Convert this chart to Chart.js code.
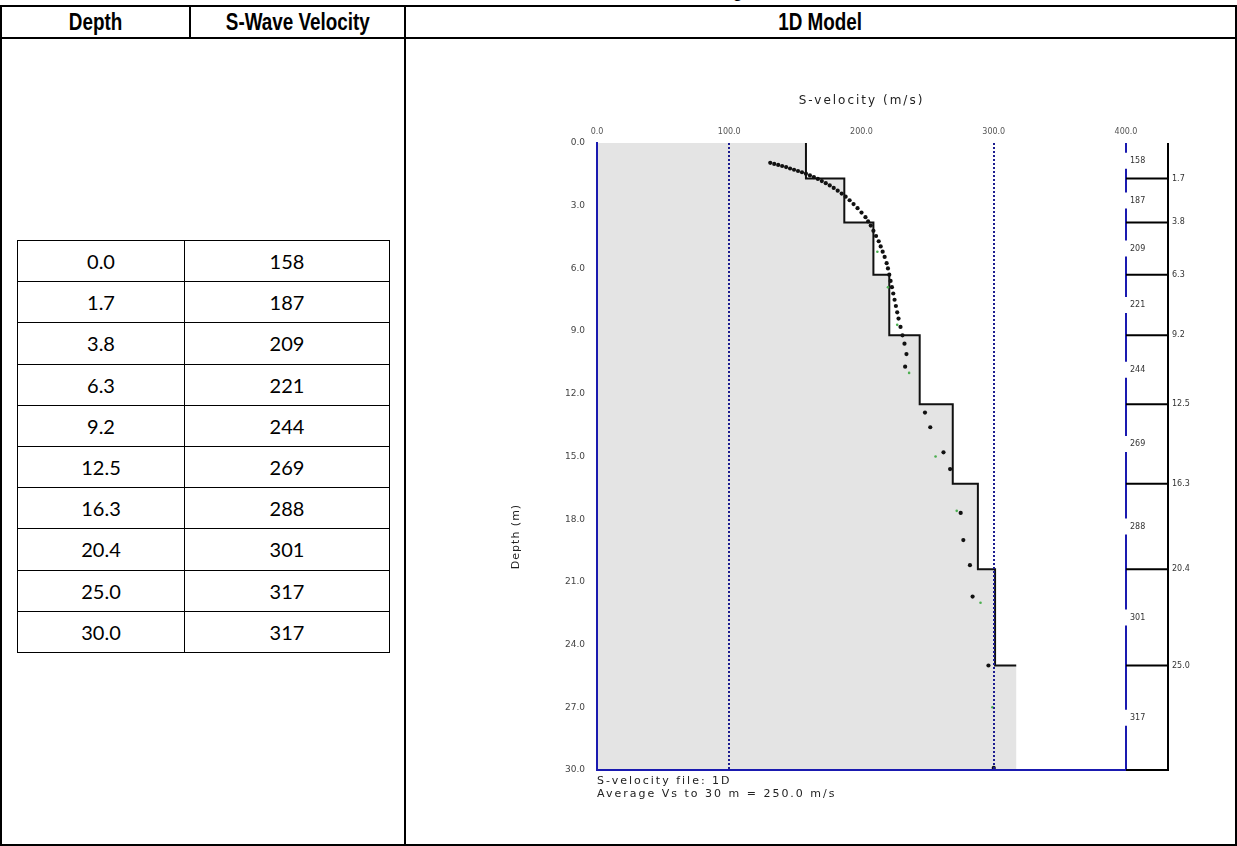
<!DOCTYPE html>
<html>
<head>
<meta charset="utf-8">
<script src="https://cdn.jsdelivr.net/npm/chart.js@4.4.1/dist/chart.umd.min.js"></script>
<style>
  html, body { margin: 0; padding: 0; background: #fff; width: 1237px; height: 846px; overflow: hidden; position: relative; }
  .ln { position: absolute; background: #000; }
  .hd { position: absolute; top: 6px; height: 32px; display: flex; align-items: center; justify-content: center;
        font: bold 23px "Liberation Sans", Arial, sans-serif; color: #000; }
  .hd span { display: inline-block; transform: scaleX(0.82); white-space: nowrap; }
  #caption { position: absolute; top: -25px; left: 592px; font: bold 23px "Liberation Sans", Arial, sans-serif; line-height: 26px; }
  #caption span { display: inline-block; transform: scaleX(0.82); transform-origin: left; white-space: nowrap; }
  #vt { position: absolute; left: 17px; top: 240px; border-collapse: collapse; table-layout: fixed; width: 373px;
        font: 20px Lato, "Open Sans", sans-serif; color: #000; }
  #vt td { border: 1px solid #000; padding: 0; text-align: center; }
  #vt tr { height: 41.2px; }
  #chart { position: absolute; left: 0; top: 0; z-index: 2; }
</style>
</head>
<body>
<div id="caption"><span>MASW Sounding</span></div>

<!-- outer table rules -->
<div class="ln" style="left:0;top:5px;width:1237px;height:2px"></div>
<div class="ln" style="left:0;top:37px;width:1237px;height:2px"></div>
<div class="ln" style="left:0;top:844px;width:1237px;height:2px"></div>
<div class="ln" style="left:0;top:5px;width:2px;height:841px"></div>
<div class="ln" style="left:1235px;top:5px;width:2px;height:841px"></div>
<div class="ln" style="left:189px;top:5px;width:2px;height:33px"></div>
<div class="ln" style="left:404px;top:5px;width:2px;height:841px"></div>

<div class="hd" style="left:2px;width:187px"><span>Depth</span></div>
<div class="hd" style="left:191px;width:213px"><span>S-Wave Velocity</span></div>
<div class="hd" style="left:406px;width:829px"><span>1D Model</span></div>

<table id="vt"><colgroup><col style="width:167px"><col style="width:205px"></colgroup><tbody></tbody></table>

<canvas id="chart" width="1237" height="846" style="width:1237px;height:846px"></canvas>

<script>
// Layer tops (m) and shear-wave velocities (m/s); last row is the model base.
const depths = [0.0, 1.7, 3.8, 6.3, 9.2, 12.5, 16.3, 20.4, 25.0, 30.0];
const velocities = [158, 187, 209, 221, 244, 269, 288, 301, 317, 317];

// Observed dispersion picks, plotted as velocity vs. pseudo-depth.
const pickVelocity = [131, 134, 137, 140, 143, 146, 149, 152, 155, 158, 161, 164, 167, 170, 173, 176, 179, 182, 185, 188,
                      191, 194, 197, 200, 203, 205, 207, 209, 211, 213, 214.5, 216, 217.5, 219, 220, 221, 222, 223, 224, 225,
                      226, 227, 228, 229.5, 231, 232.5, 234, 233,
                      248, 252, 262, 267, 275, 277, 282, 284, 296, 300];
const pickDepth = [0.95, 1.0, 1.05, 1.1, 1.15, 1.22, 1.28, 1.34, 1.4, 1.47, 1.55, 1.63, 1.72, 1.82, 1.92, 2.03, 2.15, 2.28, 2.42, 2.57,
                   2.74, 2.92, 3.12, 3.33, 3.55, 3.75, 3.95, 4.2, 4.45, 4.7, 4.95, 5.2, 5.45, 5.75, 6.0, 6.3, 6.6, 6.9, 7.2, 7.5,
                   7.8, 8.1, 8.4, 8.8, 9.2, 9.6, 10.1, 10.7,
                   12.9, 13.6, 14.8, 15.6, 17.7, 19.0, 20.2, 21.7, 25.0, 29.9];

// Theoretical curve samples.
const fitVelocity = [212, 220, 227, 236, 256, 272, 290, 299];
const fitDepth = [5.2, 6.9, 8.7, 11.0, 15.0, 17.6, 22.0, 27.0];

// Axis ticks.
const velocityTicks = [0, 100, 200, 300, 400];
const depthTicks = [0, 3, 6, 9, 12, 15, 18, 21, 24, 27, 30];
const guideVelocities = [100, 300];

// Table of layer values
const tbody = document.querySelector('#vt tbody');
depths.forEach((d, i) => {
  const tr = document.createElement('tr');
  const a = document.createElement('td'); a.textContent = d.toFixed(1);
  const b = document.createElement('td'); b.textContent = String(velocities[i]);
  tr.appendChild(a); tr.appendChild(b); tbody.appendChild(tr);
});

// Step profile corners
const layerCount = depths.length - 1;
const stepPts = [];
for (let i = 0; i < layerCount; i++) {
  stepPts.push({x: velocities[i], y: depths[i]});
  stepPts.push({x: velocities[i], y: depths[i + 1]});
}
// Outline drawn down to the top of the half-space layer
const outlinePts = stepPts.slice(0, stepPts.length - 1);
// Shaded area between the depth axis and the profile
const shadePts = [{x: 0, y: depths[0]}].concat(stepPts, [{x: 0, y: depths[depths.length - 1]}]);

const picks = pickVelocity.map((v, i) => ({x: v, y: pickDepth[i]}));
const fit = fitVelocity.map((v, i) => ({x: v, y: fitDepth[i]}));

// Average shear velocity over the model depth
let travel = 0;
for (let i = 0; i < layerCount; i++) travel += (depths[i + 1] - depths[i]) / velocities[i];
const vsAvg = (depths[depths.length - 1] - depths[0]) / travel;

const AXIS_BLUE = '#1a1ab0';
const GUIDE_BLUE = '#1c1c90';

const annotate = {
  id: 'annotate',
  afterDraw(chart) {
    const {ctx, scales: {x, y}} = chart;
    const top = y.getPixelForValue(depths[0]);
    const bottom = y.getPixelForValue(depths[depths.length - 1]);
    const xr1 = x.getPixelForValue(velocityTicks[velocityTicks.length - 1]);
    const xr2 = xr1 + 42;
    ctx.save();
    ctx.font = '8px "DejaVu Sans", sans-serif';
    ctx.textBaseline = 'middle';

    // velocity column: blue rule broken by the layer labels
    const mids = [];
    for (let i = 0; i < layerCount; i++) mids.push(y.getPixelForValue((depths[i] + depths[i + 1]) / 2));
    ctx.strokeStyle = AXIS_BLUE; ctx.lineWidth = 2;
    let yStart = top;
    mids.forEach(m => {
      ctx.beginPath(); ctx.moveTo(xr1, yStart); ctx.lineTo(xr1, m - 8); ctx.stroke();
      yStart = m + 8;
    });
    ctx.beginPath(); ctx.moveTo(xr1, yStart); ctx.lineTo(xr1, bottom); ctx.stroke();
    ctx.fillStyle = '#333'; ctx.textAlign = 'left';
    mids.forEach((m, i) => ctx.fillText(String(velocities[i]), xr1 + 4, m));

    // depth column: boundaries with labels
    ctx.strokeStyle = '#000'; ctx.lineWidth = 2;
    ctx.beginPath(); ctx.moveTo(xr2, top); ctx.lineTo(xr2, bottom + 1); ctx.stroke();
    for (let i = 1; i < depths.length; i++) {
      const py = y.getPixelForValue(depths[i]);
      ctx.beginPath(); ctx.moveTo(xr1, py); ctx.lineTo(xr2, py); ctx.stroke();
      if (i < depths.length - 1) ctx.fillText(depths[i].toFixed(1), xr2 + 4, py);
    }

    // headings and notes
    ctx.fillStyle = '#222';
    ctx.letterSpacing = '2px';
    ctx.font = '12px "DejaVu Sans", sans-serif';
    ctx.textAlign = 'center';
    ctx.fillText('S-velocity (m/s)', x.getPixelForValue(200), 101);
    ctx.font = '11px "DejaVu Sans", sans-serif';
    ctx.textAlign = 'left';
    ctx.fillText('S-velocity file: 1D', x.left, bottom + 11);
    ctx.fillText('Average Vs to 30 m = ' + vsAvg.toFixed(1) + ' m/s', x.left, bottom + 24);
    ctx.letterSpacing = '1px';
    ctx.translate(516, (top + bottom) / 2 + 80);
    ctx.rotate(-Math.PI / 2);
    ctx.textAlign = 'center';
    ctx.fillText('Depth (m)', 0, 0);
    ctx.restore();
  }
};

new Chart(document.getElementById('chart'), {
  type: 'scatter',
  data: {
    datasets: [
      { label: 'picks', data: picks, order: 0, showLine: false,
        pointRadius: 2.1, pointBorderWidth: 0, pointBackgroundColor: '#111', pointBorderColor: '#111' },
      { label: 'fit', data: fit, order: 1, showLine: false,
        pointRadius: 1.3, pointBorderWidth: 0, pointBackgroundColor: '#4caf50', pointBorderColor: '#4caf50' },
      { label: 'profile', data: outlinePts, order: 2, showLine: true, fill: false,
        borderColor: '#111', borderWidth: 2, pointRadius: 0, tension: 0 },
      { label: 'shade', data: shadePts, order: 3, showLine: true, fill: 'shape',
        backgroundColor: '#e4e4e4', borderWidth: 0, borderColor: 'rgba(0,0,0,0)', pointRadius: 0, tension: 0 }
    ]
  },
  options: {
    responsive: false,
    animation: false,
    events: [],
    layout: { padding: { left: 557, right: 111, top: 121, bottom: 76 } },
    plugins: { legend: { display: false }, title: { display: false }, tooltip: { enabled: false } },
    scales: {
      x: {
        type: 'linear', position: 'top', min: 0, max: 400,
        afterBuildTicks: s => { s.ticks = velocityTicks.map(v => ({value: v})); },
        afterFit: s => { s.height = 22; },
        ticks: { callback: v => Number(v).toFixed(1), color: '#555', font: { size: 8, family: 'DejaVu Sans' }, padding: 6, maxRotation: 0 },
        grid: { z: 1, drawTicks: false, lineWidth: 2,
                color: c => (c.tick && guideVelocities.includes(c.tick.value)) ? GUIDE_BLUE : 'rgba(0,0,0,0)' },
        border: { display: false, dash: [2, 2] }
      },
      y: {
        type: 'linear', reverse: true, min: 0, max: 30,
        afterBuildTicks: s => { s.ticks = depthTicks.map(v => ({value: v})); },
        afterFit: s => { s.width = 40; },
        ticks: { callback: v => Number(v).toFixed(1), color: '#444', font: { size: 9, family: 'DejaVu Sans' }, padding: 12 },
        grid: { z: 1, drawTicks: false, lineWidth: 2,
                color: c => (c.tick && c.tick.value === depthTicks[depthTicks.length - 1]) ? AXIS_BLUE : 'rgba(0,0,0,0)' },
        border: { display: true, color: AXIS_BLUE, width: 2, z: 1 }
      }
    }
  },
  plugins: [annotate]
});
</script>
</body>
</html>
